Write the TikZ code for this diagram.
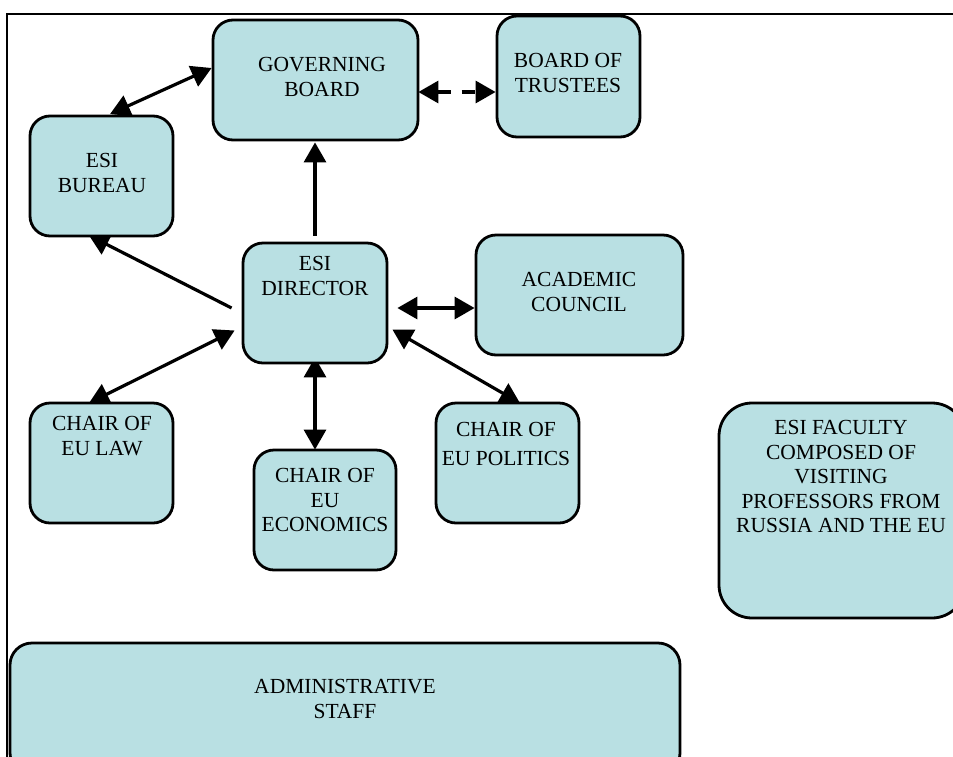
\documentclass[tikz,border=0pt]{standalone}
\usepackage{fontspec}
\setmainfont{Liberation Serif}
\usetikzlibrary{arrows.meta,calc,backgrounds}
\definecolor{boxfill}{RGB}{185,224,227}
\tikzset{
  box/.style={draw=black, line width=2.8pt, fill=boxfill, rounded corners=20pt, inner sep=0pt, rectangle},
  txt/.style={font=\fontsize{21.5pt}{24.5pt}\selectfont, align=center, inner sep=0pt, anchor=north, text=black},
  arr/.style={line width=3.2pt, >={Triangle[length=20pt,width=22pt]}},
}
\begin{document}
\begin{tikzpicture}[x=1pt,y=-1pt]
\useasboundingbox (0,0) rectangle (953,756);
\clip (0,0) rectangle (953,756);
\draw[line width=1.5pt] (7,14) rectangle (980,790);
% boxes
\node[box, minimum width=205pt, minimum height=120pt] (gov) at (315.5,80) {};
\node[box, minimum width=143pt, minimum height=121pt] (trust) at (568.5,76.5) {};
\node[box, minimum width=143pt, minimum height=120pt] (bur) at (101.5,176) {};
\node[box, minimum width=144pt, minimum height=120pt] (dir) at (315,303) {};
\node[box, minimum width=207pt, minimum height=120pt] (acad) at (579.5,295) {};
\node[box, minimum width=143pt, minimum height=120pt] (law) at (101.5,463) {};
\node[box, minimum width=142pt, minimum height=120pt] (econ) at (325,510) {};
\node[box, minimum width=143pt, minimum height=120pt] (pol) at (507.5,463) {};
\node[box, rounded corners=33pt, minimum width=246pt, minimum height=215pt] (fac) at (842,510.5) {};
\node[box, rounded corners=22pt, minimum width=670pt, minimum height=132pt] (adm) at (345,709) {};
% texts (north = first baseline - 14.5)
\node[txt] (govT) at (322,57.5) {GOVERNING\\BOARD};
\node[txt] (trustT) at (568,53.5) {BOARD OF\\TRUSTEES};
\node[txt] (burT) at (102,153.5) {ESI\\BUREAU};
\node[txt] (dirT) at (315,256.5) {ESI\\DIRECTOR};
\node[txt] (acadT) at (579,272.5) {ACADEMIC\\COUNCIL};
\node[txt] (lawT) at (102,416.5) {CHAIR OF\\EU LAW};
\node[txt] (econT) at (325,468.5) {CHAIR OF\\EU\\ECONOMICS};
\node[txt] (polT) at (506,422.5) {CHAIR OF\\[4.5pt]EU POLITICS};
\node[txt] (facT) at (841,420.5) {ESI FACULTY\\COMPOSED OF\\VISITING\\PROFESSORS FROM\\RUSSIA AND THE EU};
\node[txt] (admT) at (345,679.5) {ADMINISTRATIVE\\STAFF};
% connectors
\begin{pgfonlayer}{background}
\draw[arr,<->] ($(bur.north)+(8.5,-0.5)$) -- ($(gov.west)+(0,-12)$);
\draw[arr,->] ($(dir.north)+(0,-6)$) -- ($(gov.south)+(-0.5,1)$);
\draw[arr,->] ($(dir.west)+(-10,5)$) -- ($(bur.south)+(-12.5,-2)$);
\draw[arr,<->] ($(dir.east)+(9,5)$) -- ($(acad.west)+(0,13)$);
\draw[arr,<->] ($(law.north)+(-12.5,1.5)$) -- ($(dir.west)+(-7,27.5)$);
\draw[arr,<->] ($(econ.north)+(-10,1)$) -- ($(dir.south)+(0,-7)$);
\draw[arr,<->] ($(pol.north)+(12.5,1.5)$) -- ($(dir.east)+(4,26.5)$);
\draw[arr,<->,dash pattern=on 13pt off 11pt] ($(gov.east)+(-1,12)$) -- ($(trust.west)+(0,15.5)$);
\end{pgfonlayer}
\end{tikzpicture}
\end{document}
